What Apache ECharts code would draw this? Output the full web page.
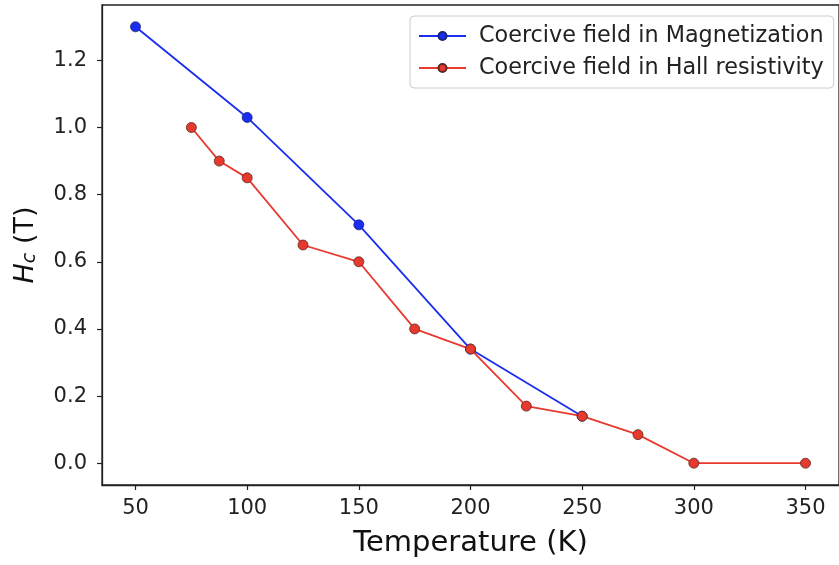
<!DOCTYPE html>
<html><head><meta charset="utf-8">
<script src="https://cdn.jsdelivr.net/npm/echarts@6/dist/echarts.min.js"></script>
<style>html,body{margin:0;padding:0;background:#fff}#c{width:839px;height:565px}</style>
</head><body><div id="c"></div>
<script>
const magT = [50, 100, 150, 200, 250];
const magHc = [1.30, 1.03, 0.71, 0.34, 0.14];
const hallT = [75, 87.5, 100, 125, 150, 175, 200, 225, 250, 275, 300, 350];
const hallHc = [1.00, 0.90, 0.85, 0.65, 0.60, 0.40, 0.34, 0.17, 0.14, 0.085, 0.0, 0.0];
const xTicks = [50, 100, 150, 200, 250, 300, 350];
const yTicks = [0.0, 0.2, 0.4, 0.6, 0.8, 1.0, 1.2];

const font = 'DejaVu Sans';
const chart = echarts.init(document.getElementById('c'), null, {renderer: 'canvas'});
const mk = (t, v) => t.map((x, i) => [x, v[i]]);
chart.setOption({
  animation: false,
  backgroundColor: '#fff',
  grid: {left: 102, top: 5, width: 743, height: 480, containLabel: false,
    show: true, borderColor: '#222', borderWidth: 1.3, backgroundColor: 'transparent'},
  legend: {
    orient: 'vertical', left: 410, top: 16,
    backgroundColor: '#fff', borderColor: '#cccccc', borderWidth: 1, borderRadius: 4,
    padding: [9, 10, 9, 8], itemGap: 10, itemWidth: 47, itemHeight: 10,
    textStyle: {fontFamily: font, fontSize: 22.3, color: '#222', padding: [0, 0, 0, 8]},
    data: ['Coercive field in Magnetization', 'Coercive field in Hall resistivity']
  },
  xAxis: {
    type: 'value', min: 35, max: 365,
    name: 'Temperature (K)', nameLocation: 'middle', nameGap: 44,
    nameTextStyle: {fontFamily: font, fontSize: 29, color: '#111'},
    axisLine: {show: true, onZero: false, lineStyle: {color: '#222', width: 1.3}},
    axisTick: {show: true, length: 5, customValues: xTicks, lineStyle: {color: '#222', width: 1.2}},
    axisLabel: {customValues: xTicks, fontFamily: font, fontSize: 21, color: '#222', margin: 13},
    splitLine: {show: false}
  },
  yAxis: {
    type: 'value', min: -0.065, max: 1.365,
    name: '{i|H}{s|c} (T)', nameLocation: 'middle', nameGap: 62,
    nameTextStyle: {fontFamily: font, fontSize: 27, color: '#111',
      rich: {
        i: {fontFamily: font, fontSize: 27, fontStyle: 'italic', color: '#111'},
        s: {fontFamily: font, fontSize: 19, fontStyle: 'italic', color: '#111', verticalAlign: 'bottom', padding: [10, 0, 0, 0]}
      }},
    axisLine: {show: true, onZero: false, lineStyle: {color: '#222', width: 1.3}},
    axisTick: {show: true, length: 5, customValues: yTicks, lineStyle: {color: '#222', width: 1.2}},
    axisLabel: {customValues: yTicks, fontFamily: font, fontSize: 21, color: '#222', margin: 15,
      formatter: v => v.toFixed(1)},
    splitLine: {show: false}
  },
  series: [
    {
      name: 'Coercive field in Magnetization', type: 'line', data: mk(magT, magHc),
      symbol: 'circle', symbolSize: 10, showAllSymbol: true,
      lineStyle: {color: '#1a2ef0', width: 1.8},
      itemStyle: {color: '#1a2ef0', borderColor: '#1a237a', borderWidth: 0.8}
    },
    {
      name: 'Coercive field in Hall resistivity', type: 'line', data: mk(hallT, hallHc),
      symbol: 'circle', symbolSize: 10, showAllSymbol: true,
      lineStyle: {color: '#e8392f', width: 1.8},
      itemStyle: {color: '#e8392f', borderColor: '#5a2a22', borderWidth: 0.8}
    }
  ]
});
</script></body></html>
